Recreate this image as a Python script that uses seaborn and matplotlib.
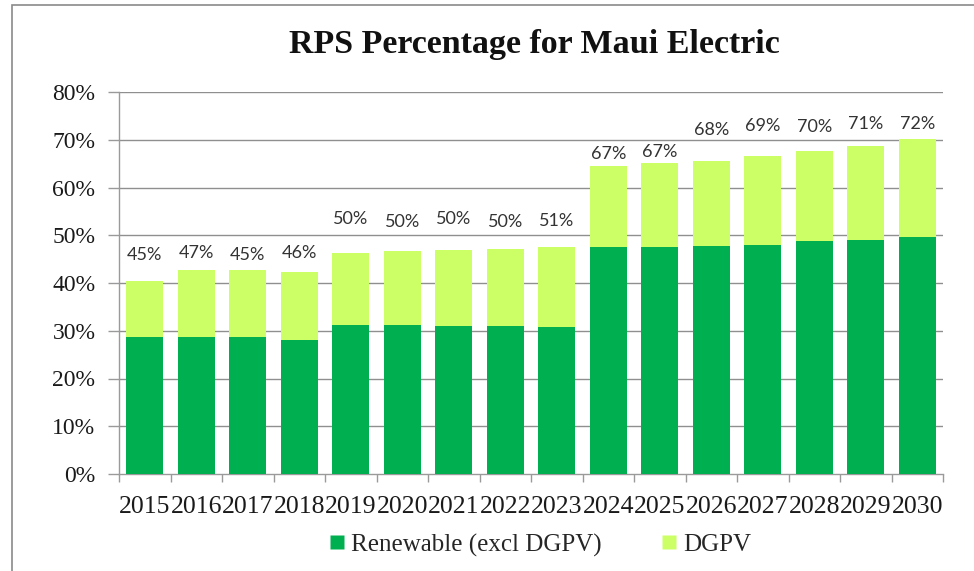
import matplotlib
matplotlib.use("Agg")
import matplotlib.pyplot as plt
import seaborn as sns
import pandas as pd
from matplotlib.ticker import PercentFormatter
from matplotlib.patches import Rectangle
from matplotlib.lines import Line2D

years = ["2015", "2016", "2017", "2018", "2019", "2020", "2021", "2022",
         "2023", "2024", "2025", "2026", "2027", "2028", "2029", "2030"]
renewable = [28.7, 28.7, 28.6, 28.0, 31.2, 31.2, 31.0, 30.9,
             30.7, 47.6, 47.6, 47.8, 48.0, 48.7, 49.1, 49.6]
dgpv = [11.8, 14.1, 14.2, 14.4, 15.1, 15.5, 16.0, 16.2,
        16.9, 16.8, 17.5, 17.8, 18.5, 19.0, 19.6, 20.5]
rps_labels = ["45%", "47%", "45%", "46%", "50%", "50%", "50%", "50%",
              "51%", "67%", "67%", "68%", "69%", "70%", "71%", "72%"]
label_height = [45.8, 46.2, 45.8, 46.3, 53.3, 52.8, 53.5, 52.8,
                53.0, 67.1, 67.4, 72.1, 72.9, 72.7, 73.3, 73.3]

series_names = ["Renewable (excl DGPV)", "DGPV"]
colors = ["#00B050", "#CCFF66"]

df = pd.DataFrame({"year": years, "renewable": renewable, "dgpv": dgpv})
df["total"] = df["renewable"] + df["dgpv"]

sns.set_theme(style="white")
serif = ["Liberation Serif", "DejaVu Serif"]

W, H = 974, 571
fig = plt.figure(figsize=(W / 100, H / 100), dpi=100)
ax = fig.add_axes([119 / W, 1 - 474 / H, (943 - 119) / W, (474 - 92) / H])

sns.barplot(data=df, x="year", y="total", color=colors[1], saturation=1,
            width=0.71, ax=ax, zorder=3)
sns.barplot(data=df, x="year", y="renewable", color=colors[0], saturation=1,
            width=0.71, ax=ax, zorder=4)
for p in ax.patches:
    p.set_edgecolor("none")

ax.set_ylim(0, 80)
ax.set_xlim(-0.5, len(years) - 0.5)
ax.set_yticks(range(0, 81, 10))
ax.yaxis.set_major_formatter(PercentFormatter(decimals=0))
ax.set_xlabel("")
ax.set_ylabel("")

# gridlines
for v in range(10, 81, 10):
    ax.axhline(v, color="#8f8f8f", lw=1.0, zorder=1)

for s in ["top", "right"]:
    ax.spines[s].set_visible(False)
for s in ["left", "bottom"]:
    ax.spines[s].set_visible(True)
    ax.spines[s].set_color("#9a9a9a")
    ax.spines[s].set_linewidth(1.0)

ax.tick_params(axis="y", which="major", direction="out", length=8, width=1,
               color="#9a9a9a", left=True, pad=9)
ax.tick_params(axis="x", which="major", bottom=False, pad=10)
ax.set_xticks(range(len(years)))
ax.set_xticklabels(years)
ax.set_xticks([i + 0.5 for i in range(-1, len(years))], minor=True)
ax.tick_params(axis="x", which="minor", bottom=True, direction="out", length=6,
               width=1, color="#9a9a9a")

for lab in ax.get_yticklabels():
    lab.set_family(serif)
    lab.set_fontsize(17)
    lab.set_color("#1a1a1a")
for lab in ax.get_xticklabels():
    lab.set_family(serif)
    lab.set_fontsize(18.5)
    lab.set_color("#1a1a1a")

# data labels
for i, (txt, h) in enumerate(zip(rps_labels, label_height)):
    ax.text(i, h, txt, ha="center", va="center", fontsize=13,
            family=["Lato", "DejaVu Sans"], color="#333333", zorder=5)

# title
fig.text(534 / W, 1 - 45 / H, "RPS Percentage for Maui Electric",
         ha="center", va="center", fontsize=24.5, fontweight="bold",
         family=serif, color="#111111")

# legend
handles = [Line2D([0], [0], marker="s", linestyle="none", markersize=10,
                  markerfacecolor=c, markeredgecolor="none") for c in colors]
fig.legend(handles, series_names, loc="center", bbox_to_anchor=(538 / W, 1 - 545 / H),
           ncol=2, frameon=False, prop={"family": serif, "size": 18},
           handletextpad=0.05, columnspacing=2.2, handlelength=1.0)

# outer frame (only top/left edges visible)
fig.patches.append(Rectangle((12 / W, -0.2), 1.2, 1.2 - 5 / H,
                             transform=fig.transFigure, fill=False,
                             edgecolor="#8a8a8a", lw=1.2))

fig.savefig("out.png", dpi=100)
